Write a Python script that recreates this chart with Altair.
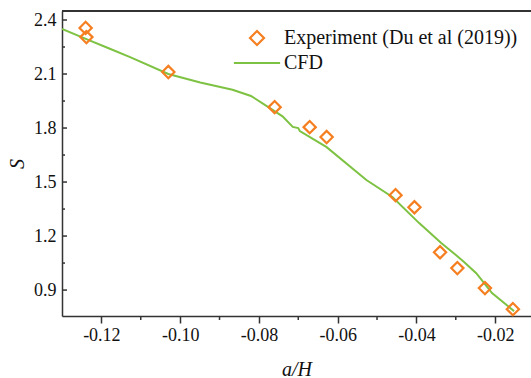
import altair as alt
import pandas as pd

# Experimental data (Du et al 2019)
exp_x = [-0.1240, -0.1238, -0.1030, -0.0760, -0.0671, -0.0628, -0.0453, -0.0405,
         -0.0340, -0.0296, -0.0226, -0.0155]
exp_y = [2.356, 2.305, 2.111, 1.916, 1.805, 1.750, 1.427, 1.360,
         1.110, 1.022, 0.911, 0.794]

# CFD curve
cfd_x = [-0.1300, -0.1238, -0.1180, -0.1127, -0.1030, -0.0949, -0.0867, -0.0820,
         -0.0772, -0.0740, -0.0714, -0.0700, -0.0696, -0.0628, -0.0527, -0.0461,
         -0.0393, -0.0337, -0.0299, -0.0279, -0.0248, -0.0208, -0.0152]
cfd_y = [2.350, 2.294, 2.242, 2.194, 2.100, 2.053, 2.013, 1.978,
         1.911, 1.865, 1.806, 1.800, 1.783, 1.694, 1.511, 1.417,
         1.272, 1.161, 1.094, 1.056, 0.994, 0.883, 0.783]

x_ticks = [-0.12, -0.10, -0.08, -0.06, -0.04, -0.02]
x_minor = [-0.11, -0.09, -0.07, -0.05, -0.03]
y_ticks = [0.9, 1.2, 1.5, 1.8, 2.1, 2.4]
y_minor = [1.05, 1.35, 1.65, 1.95, 2.25]

S_EXP = "Experiment (Du et al (2019))"
S_CFD = "CFD"
ORANGE = "#F57F20"
GREEN = "#7DC242"
FONT = "Liberation Serif"

W, H = 469, 305
xdom = [-0.13, -0.0109]
ydom = [0.756, 2.45]

df_exp = pd.DataFrame({"x": exp_x, "y": exp_y, "series": S_EXP})
df_cfd = pd.DataFrame({"x": cfd_x, "y": cfd_y, "series": S_CFD})

xscale = alt.Scale(domain=xdom, nice=False, zero=False)
yscale = alt.Scale(domain=ydom, nice=False, zero=False)
cscale = alt.Scale(domain=[S_EXP, S_CFD], range=[ORANGE, GREEN])
sscale = alt.Scale(domain=[S_EXP, S_CFD], range=["diamond", "M-3.3,0H3.3"])

xaxis = alt.Axis(values=x_ticks, title="a/H", grid=False,
                 labelExpr="'-' + format(abs(datum.value), '.2f')",
                 tickSize=7, tickColor="#333", domainColor="#333", domainWidth=1.5,
                 tickWidth=1.5, labelFont=FONT, labelFontSize=18, labelColor="#111",
                 labelPadding=3, titleFont=FONT, titleFontSize=20, titleFontStyle="italic",
                 titleFontWeight="normal", titleColor="#111", titlePadding=15)
yaxis = alt.Axis(values=y_ticks, format=".1f", title="S", grid=False,
                 tickSize=0, domainColor="#333", domainWidth=1.5,
                 labelFont=FONT, labelFontSize=18, labelColor="#111", labelPadding=6,
                 titleFont=FONT, titleFontSize=20, titleFontStyle="italic",
                 titleFontWeight="normal", titleColor="#111", titlePadding=6)


def mk_legend():
    return alt.Legend(
        title=None, orient="none", legendX=185, legendY=17,
        labelFont=FONT, labelFontSize=20, labelColor="#111", labelOffset=17,
        labelLimit=0, symbolSize=196, symbolStrokeWidth=2.2, rowPadding=3,
        symbolFillColor="transparent")


line = alt.Chart(df_cfd).mark_line(strokeWidth=2, clip=True).encode(
    x=alt.X("x:Q", scale=xscale, axis=xaxis),
    y=alt.Y("y:Q", scale=yscale, axis=yaxis),
    color=alt.Color("series:N", scale=cscale, legend=mk_legend()),
)

pts = alt.Chart(df_exp).mark_point(filled=False, size=150, strokeWidth=2.2, opacity=1).encode(
    x=alt.X("x:Q", scale=xscale),
    y=alt.Y("y:Q", scale=yscale),
    color=alt.Color("series:N", scale=cscale, legend=mk_legend()),
    shape=alt.Shape("series:N", scale=sscale, legend=mk_legend()),
)

df_ymaj = pd.DataFrame({"y": y_ticks})
df_ymin = pd.DataFrame({"y": y_minor})
df_xmin = pd.DataFrame({"x": x_minor})

ymaj = alt.Chart(df_ymaj).mark_rule(color="#333", strokeWidth=1.5).encode(
    y=alt.Y("y:Q", scale=yscale), x=alt.value(0), x2=alt.value(5))
ymin = alt.Chart(df_ymin).mark_rule(color="#333", strokeWidth=1.5).encode(
    y=alt.Y("y:Q", scale=yscale), x=alt.value(0), x2=alt.value(3))
xmin = alt.Chart(df_xmin).mark_rule(color="#333", strokeWidth=1.5).encode(
    x=alt.X("x:Q", scale=xscale), y=alt.value(H), y2=alt.value(H + 4))
top = alt.Chart(df_ymaj).mark_rule(color="#333", strokeWidth=1.5).encode(
    x=alt.value(0), x2=alt.value(W), y=alt.value(0))

chart = alt.layer(top, ymaj, ymin, xmin, line, pts).properties(
    width=W, height=H,
    autosize=alt.AutoSizeParams(type="none"),
    padding={"left": 62, "top": 11, "right": 0, "bottom": 62},
).configure_view(stroke=None).configure(background="white")

chart.save("out.html", embed_options={"renderer": "svg", "actions": False})
